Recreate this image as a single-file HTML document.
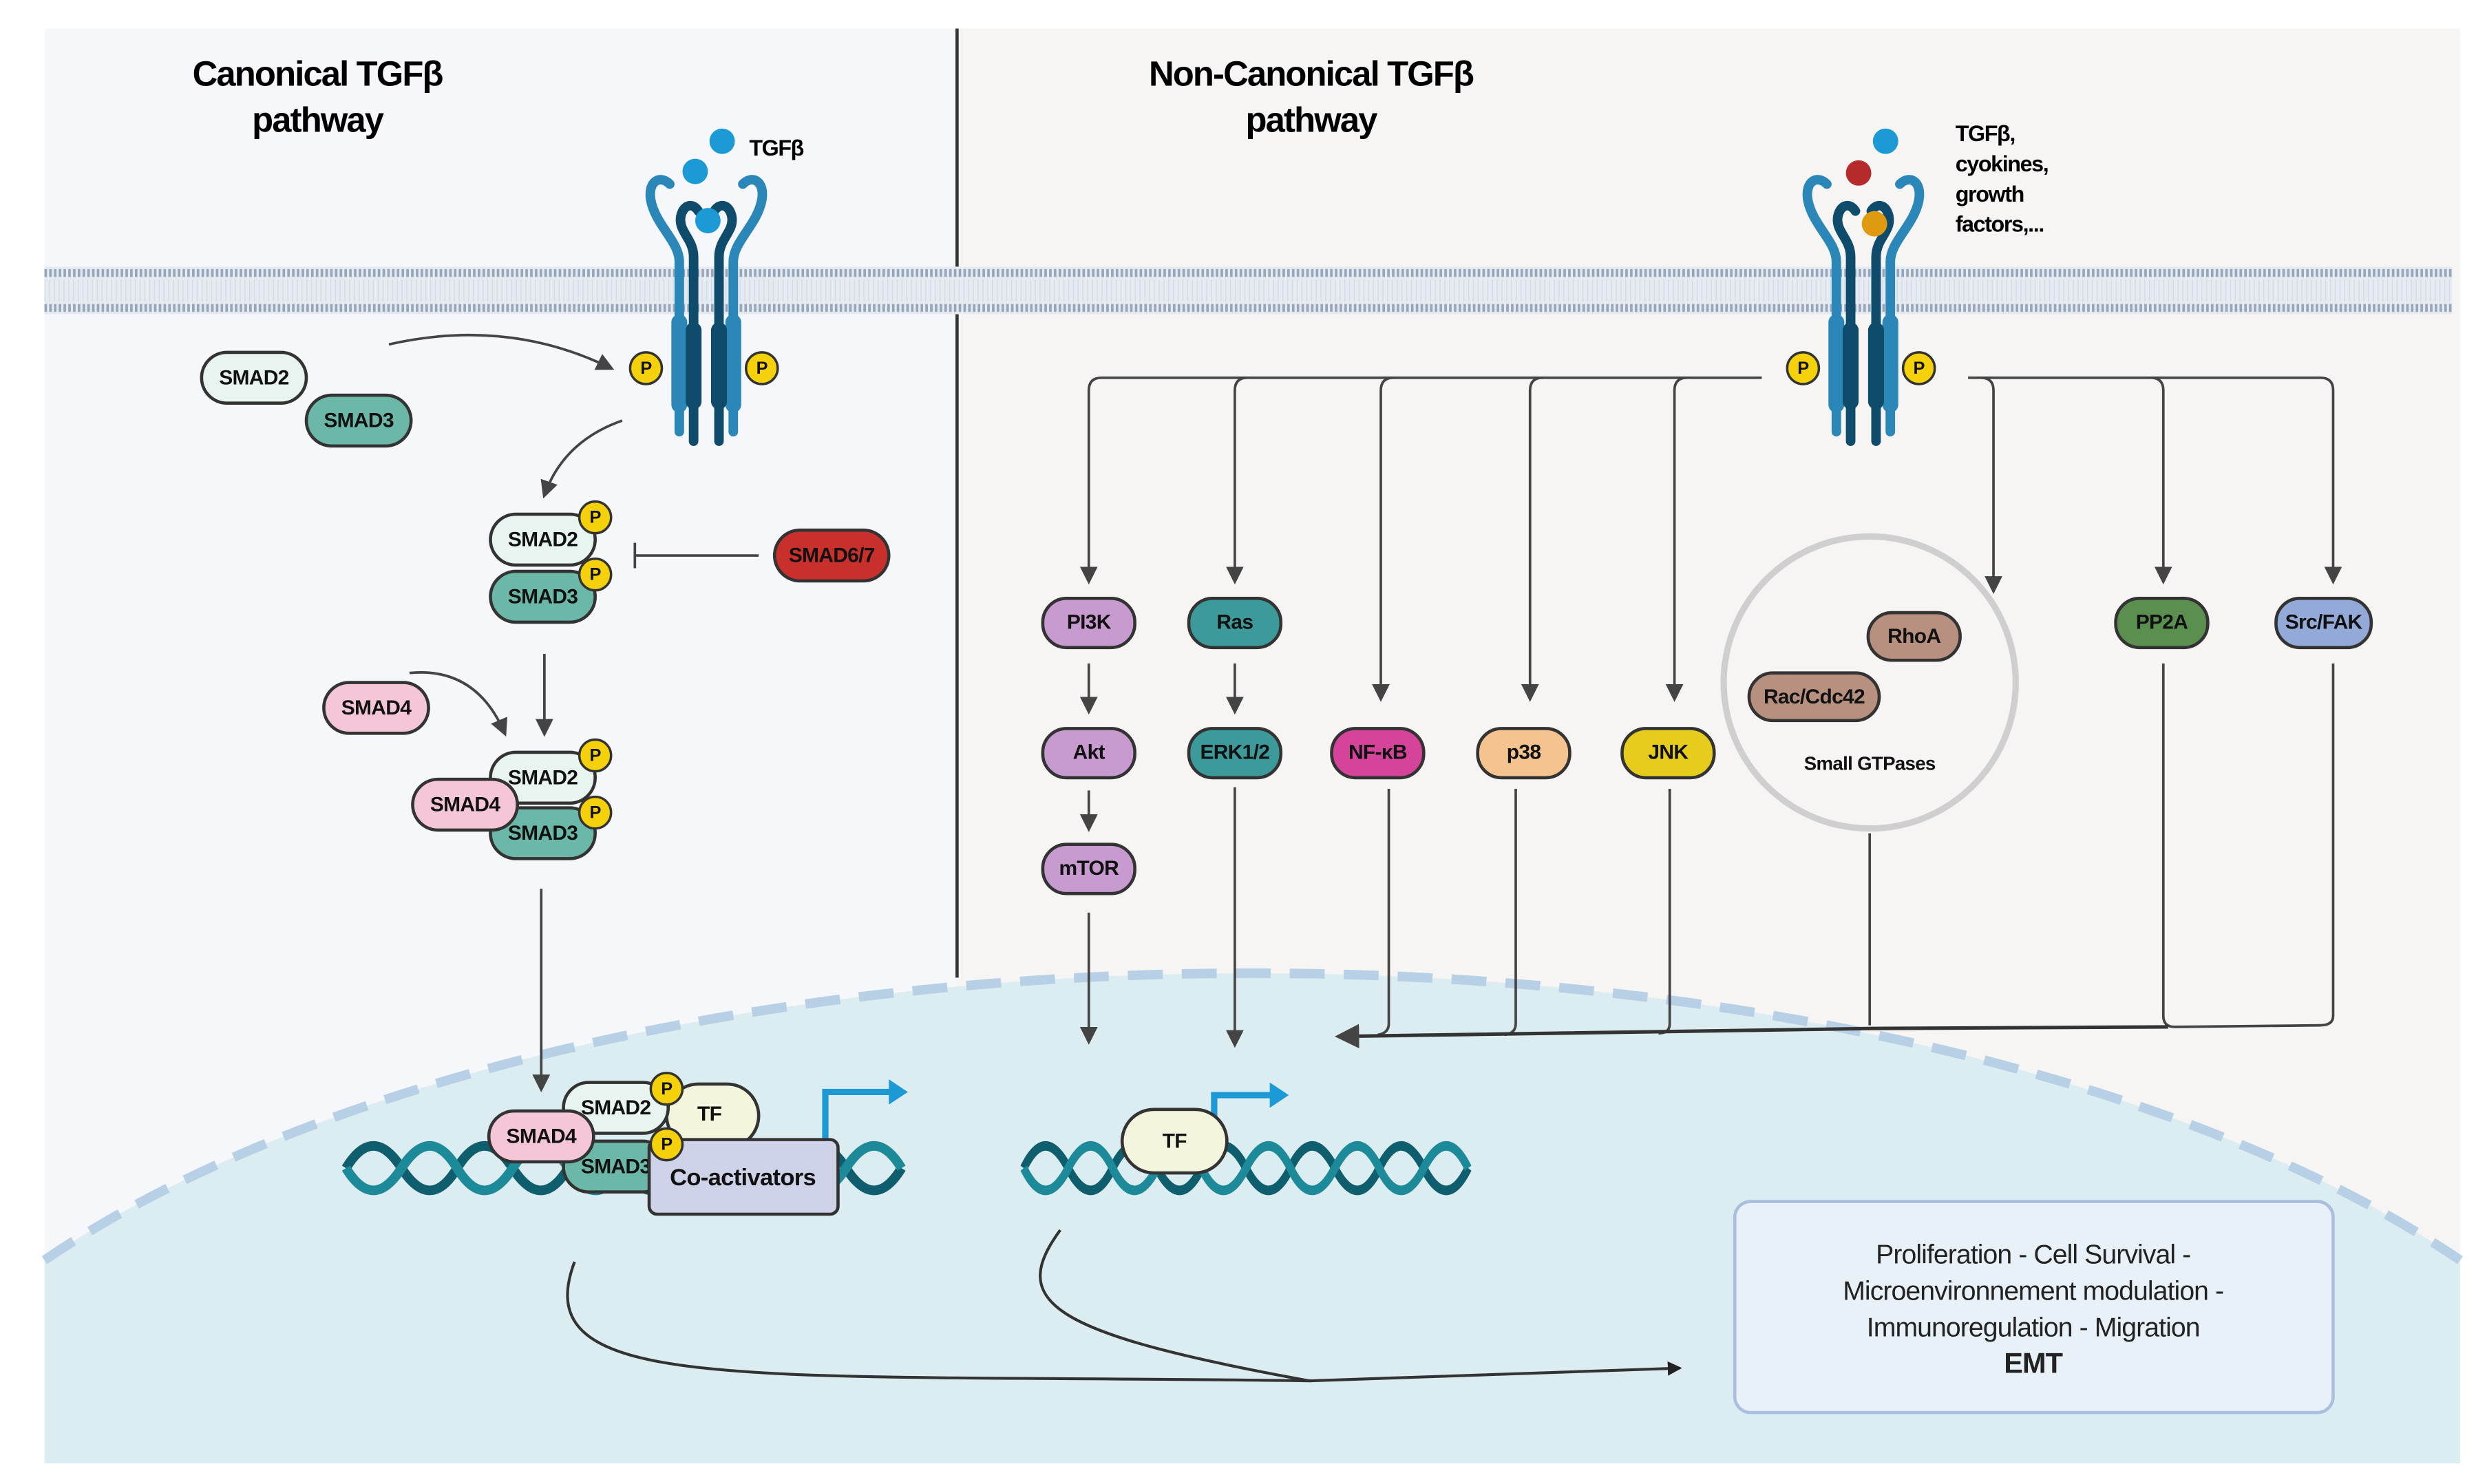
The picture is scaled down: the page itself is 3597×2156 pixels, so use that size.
<!DOCTYPE html>
<html><head><meta charset="utf-8"><style>
html,body{margin:0;padding:0;background:#fff;width:3597px;height:2156px;overflow:hidden;}
svg{display:block;position:absolute;left:0;top:0;}
text{font-family:"Liberation Sans",sans-serif;}
.n{font-size:13px;font-weight:bold;text-anchor:middle;dominant-baseline:central;letter-spacing:-0.3px;fill:#111;}
.pl{stroke:#333;stroke-width:2;}
.ar{stroke:#444;stroke-width:1.6;fill:none;}
</style></head><body>
<svg width="3597" height="2156" viewBox="0 0 1560 935" preserveAspectRatio="none" xmlns="http://www.w3.org/2000/svg" overflow="hidden">
<defs>
<marker id="ah" viewBox="0 0 10 10" refX="8" refY="5" markerWidth="7" markerHeight="7" orient="auto-start-reverse"><path d="M0,0 L10,5 L0,10 z" fill="#444"/></marker>
<marker id="ahb" viewBox="0 0 10 10" refX="8" refY="5" markerWidth="5" markerHeight="5" orient="auto"><path d="M0,0 L10,5 L0,10 z" fill="#222"/></marker>
<g id="rec">
<path d="M-17,272 L-17,165 C-17,152 -32,142 -35,126 C-37,114 -29,110 -23,116" stroke="#2a87b8" stroke-width="6" fill="none" stroke-linecap="round"/>
<path d="M17,272 L17,165 C17,152 32,142 35,126 C37,114 29,110 23,116" stroke="#2a87b8" stroke-width="6" fill="none" stroke-linecap="round"/>
<rect x="-22" y="198" width="10" height="62" rx="5" fill="#2a87b8"/>
<rect x="12" y="198" width="10" height="62" rx="5" fill="#2a87b8"/>
<path d="M-8,278 L-8,162 C-8,150 -18,146 -16,136 C-14,128 -8,128 -5,133" stroke="#0f4c6b" stroke-width="6" fill="none" stroke-linecap="round"/>
<path d="M8,278 L8,162 C8,150 18,146 16,136 C14,128 8,128 5,133" stroke="#0f4c6b" stroke-width="6" fill="none" stroke-linecap="round"/>
<rect x="-13" y="203" width="10" height="55" rx="5" fill="#0f4c6b"/>
<rect x="3" y="203" width="10" height="55" rx="5" fill="#0f4c6b"/>
<circle cx="-38" cy="232" r="10" fill="#f5d10b" stroke="#333" stroke-width="1.5"/><text class="n" x="-38" y="232" style="font-size:11px">P</text>
<circle cx="35" cy="232" r="10" fill="#f5d10b" stroke="#333" stroke-width="1.5"/><text class="n" x="35" y="232" style="font-size:11px">P</text>
</g>
<g id="dna">
<path d="M0,14 q17,-28 35,0 t35,0 t35,0 t35,0 t35,0 t35,0 t35,0 t35,0 t35,0 t35,0" stroke="#0f5e6e" stroke-width="6" fill="none"/>
<path d="M0,14 q17,28 35,0 t35,0 t35,0 t35,0 t35,0 t35,0 t35,0 t35,0 t35,0 t35,0" stroke="#1d8a99" stroke-width="6" fill="none"/>
</g>
</defs>

<rect x="28" y="18" width="575" height="904" fill="#f5f7fb"/>
<rect x="603" y="18" width="947" height="904" fill="#f7f5f4"/>
<path d="M28,794 A900,388 0 0,1 1550,794 L1550,922 L28,922 Z" fill="#dcedf1"/>
<path d="M28,794 A900,388 0 0,1 1550,794" fill="none" stroke="#b7d0e6" stroke-width="6" stroke-dasharray="22 12"/>
<line x1="603" y1="18" x2="603" y2="616" stroke="#333" stroke-width="2"/>
<rect x="28" y="168" width="1517" height="30" fill="#e6ebf2"/>
<line x1="28" y1="172" x2="1545" y2="172" stroke="#98a6bb" stroke-width="5" stroke-dasharray="1.6 1.4"/>
<line x1="28" y1="194" x2="1545" y2="194" stroke="#98a6bb" stroke-width="5" stroke-dasharray="1.6 1.4"/>
<line x1="28" y1="183" x2="1545" y2="183" stroke="#d3dae6" stroke-width="14" stroke-dasharray="0.6 2.4"/>

<text x="200" y="54" font-size="22" font-weight="bold" text-anchor="middle" letter-spacing="-0.8">Canonical TGFβ</text>
<text x="200" y="83" font-size="22" font-weight="bold" text-anchor="middle" letter-spacing="-0.8">pathway</text>
<text x="826" y="54" font-size="22" font-weight="bold" text-anchor="middle" letter-spacing="-0.8">Non-Canonical TGFβ</text>
<text x="826" y="83" font-size="22" font-weight="bold" text-anchor="middle" letter-spacing="-0.8">pathway</text>

<use href="#rec" transform="translate(445,0)"/>
<use href="#rec" transform="translate(1174,0)"/>
<circle cx="455" cy="89" r="8" fill="#1c9ad6"/><circle cx="438" cy="108" r="8" fill="#1c9ad6"/><circle cx="446" cy="139" r="8" fill="#1c9ad6"/>
<text x="472" y="98" font-size="14" font-weight="bold" letter-spacing="-0.6">TGFβ</text>
<circle cx="1188" cy="89" r="8" fill="#1c9ad6"/><circle cx="1171" cy="109" r="8" fill="#b52a2a"/><circle cx="1181" cy="141" r="8" fill="#e09a10"/>
<g font-size="14" font-weight="bold" letter-spacing="-0.6">
<text x="1232" y="89">TGFβ,</text><text x="1232" y="108">cyokines,</text><text x="1232" y="127">growth</text><text x="1232" y="146">factors,...</text></g>

<path class="ar" d="M245,217 Q320,200 385,232" marker-end="url(#ah)"/>
<path class="ar" d="M392,265 Q355,278 343,312" marker-end="url(#ah)"/>
<rect class="pl" x="127" y="222" width="66" height="32" rx="16" fill="#e8f4ef"/><text class="n" x="160" y="238">SMAD2</text>
<rect class="pl" x="193" y="249" width="66" height="32" rx="16" fill="#6cb8a8"/><text class="n" x="226" y="265">SMAD3</text>

<rect class="pl" x="309" y="360" width="66" height="32" rx="16" fill="#6cb8a8"/><text class="n" x="342" y="376">SMAD3</text>
<rect class="pl" x="309" y="324" width="66" height="32" rx="16" fill="#e8f4ef"/><text class="n" x="342" y="340">SMAD2</text>
<circle cx="375" cy="326" r="10" fill="#f5d10b" stroke="#333" stroke-width="1.5"/><text class="n" x="375" y="326" style="font-size:11px">P</text>
<circle cx="375" cy="362" r="10" fill="#f5d10b" stroke="#333" stroke-width="1.5"/><text class="n" x="375" y="362" style="font-size:11px">P</text>
<line class="ar" x1="478" y1="350" x2="400" y2="350"/><line class="ar" x1="400" y1="342" x2="400" y2="358"/>
<rect class="pl" x="488" y="334" width="72" height="32" rx="16" fill="#c9302c"/><text class="n" x="524" y="350">SMAD6/7</text>

<line class="ar" x1="343" y1="412" x2="343" y2="462" marker-end="url(#ah)"/>
<path class="ar" d="M258,424 Q300,420 318,462" marker-end="url(#ah)"/>
<rect class="pl" x="204" y="430" width="66" height="32" rx="16" fill="#f4c6d8"/><text class="n" x="237" y="446">SMAD4</text>

<rect class="pl" x="309" y="509" width="66" height="32" rx="16" fill="#6cb8a8"/><text class="n" x="342" y="525">SMAD3</text>
<rect class="pl" x="309" y="474" width="66" height="32" rx="16" fill="#e8f4ef"/><text class="n" x="342" y="490">SMAD2</text>
<rect class="pl" x="260" y="491" width="66" height="32" rx="16" fill="#f4c6d8"/><text class="n" x="293" y="507">SMAD4</text>
<circle cx="375" cy="476" r="10" fill="#f5d10b" stroke="#333" stroke-width="1.5"/><text class="n" x="375" y="476" style="font-size:11px">P</text>
<circle cx="375" cy="512" r="10" fill="#f5d10b" stroke="#333" stroke-width="1.5"/><text class="n" x="375" y="512" style="font-size:11px">P</text>
<line class="ar" x1="341" y1="560" x2="341" y2="686" marker-end="url(#ah)"/>

<use href="#dna" transform="translate(218,722)"/>
<path d="M520,718 L520,688 L562,688" stroke="#1c9ad6" stroke-width="4" fill="none"/><path d="M560,680 L572,688 L560,696 z" fill="#1c9ad6"/>
<rect class="pl" x="355" y="719" width="66" height="32" rx="16" fill="#6cb8a8"/><text class="n" x="388" y="735">SMAD3</text>
<rect class="pl" x="420" y="683" width="58" height="40" rx="20" fill="#f3f6dc"/><text class="n" x="447" y="702">TF</text>
<rect class="pl" x="355" y="682" width="66" height="32" rx="16" fill="#e8f4ef"/><text class="n" x="388" y="698">SMAD2</text>
<rect class="pl" x="409" y="718" width="119" height="47" rx="5" fill="#cfd3ea"/><text class="n" x="468" y="742" style="font-size:15px">Co-activators</text>
<rect class="pl" x="308" y="700" width="66" height="32" rx="16" fill="#f4c6d8"/><text class="n" x="341" y="716">SMAD4</text>
<circle cx="420" cy="686" r="10" fill="#f5d10b" stroke="#333" stroke-width="1.5"/><text class="n" x="420" y="686" style="font-size:11px">P</text>
<circle cx="420" cy="721" r="10" fill="#f5d10b" stroke="#333" stroke-width="1.5"/><text class="n" x="420" y="721" style="font-size:11px">P</text>

<use href="#dna" transform="translate(645,722) scale(0.8,1)"/>
<path d="M765,712 L765,690 L802,690" stroke="#1c9ad6" stroke-width="4" fill="none"/><path d="M800,682 L812,690 L800,698 z" fill="#1c9ad6"/>
<rect class="pl" x="707" y="699" width="66" height="40" rx="20" fill="#f3f6dc"/><text class="n" x="740" y="719">TF</text>

<path class="ar" d="M1110,238 L694,238 Q686,238 686,246 L686,366" marker-end="url(#ah)"/>
<path class="ar" d="M786,238 Q778,238 778,246 L778,366" marker-end="url(#ah)"/>
<path class="ar" d="M878,238 Q870,238 870,246 L870,440" marker-end="url(#ah)"/>
<path class="ar" d="M972,238 Q964,238 964,246 L964,440" marker-end="url(#ah)"/>
<path class="ar" d="M1063,238 Q1055,238 1055,246 L1055,440" marker-end="url(#ah)"/>
<path class="ar" d="M1240,238 L1462,238 Q1470,238 1470,246 L1470,366" marker-end="url(#ah)"/>
<path class="ar" d="M1248,238 Q1256,238 1256,246 L1256,372" marker-end="url(#ah)"/>
<path class="ar" d="M1355,238 Q1363,238 1363,246 L1363,366" marker-end="url(#ah)"/>

<circle cx="1178" cy="430" r="92" fill="none" stroke="#cfcfcf" stroke-width="4"/>
<rect class="pl" x="1177" y="386" width="58" height="30" rx="15" fill="#b89080"/><text class="n" x="1206" y="401">RhoA</text>
<rect class="pl" x="1102" y="424" width="82" height="30" rx="15" fill="#b89080"/><text class="n" x="1143" y="439">Rac/Cdc42</text>
<text class="n" x="1178" y="481" style="font-size:12px">Small GTPases</text>

<rect class="pl" x="657" y="377" width="58" height="31" rx="15" fill="#c79bd0"/><text class="n" x="686" y="392">PI3K</text>
<rect class="pl" x="749" y="377" width="58" height="31" rx="15" fill="#3d9a9a"/><text class="n" x="778" y="392">Ras</text>
<line class="ar" x1="686" y1="418" x2="686" y2="448" marker-end="url(#ah)"/>
<line class="ar" x1="778" y1="418" x2="778" y2="448" marker-end="url(#ah)"/>
<rect class="pl" x="657" y="459" width="58" height="31" rx="15" fill="#c79bd0"/><text class="n" x="686" y="474">Akt</text>
<rect class="pl" x="749" y="459" width="58" height="31" rx="15" fill="#3d9a9a"/><text class="n" x="778" y="474">ERK1/2</text>
<line class="ar" x1="686" y1="498" x2="686" y2="522" marker-end="url(#ah)"/>
<rect class="pl" x="657" y="532" width="58" height="31" rx="15" fill="#c79bd0"/><text class="n" x="686" y="547">mTOR</text>
<rect class="pl" x="839" y="459" width="58" height="31" rx="15" fill="#d5449a"/><text class="n" x="868" y="474">NF-κB</text>
<rect class="pl" x="931" y="459" width="58" height="31" rx="15" fill="#f5c38e"/><text class="n" x="960" y="474">p38</text>
<rect class="pl" x="1022" y="459" width="58" height="31" rx="15" fill="#e6cc1d"/><text class="n" x="1051" y="474">JNK</text>
<rect class="pl" x="1333" y="377" width="58" height="31" rx="15" fill="#5a8f50"/><text class="n" x="1362" y="392">PP2A</text>
<rect class="pl" x="1434" y="377" width="60" height="31" rx="15" fill="#93a9d8"/><text class="n" x="1464" y="392">Src/FAK</text>

<line class="ar" x1="686" y1="575" x2="686" y2="656" marker-end="url(#ah)"/>
<line class="ar" x1="778" y1="496" x2="778" y2="658" marker-end="url(#ah)"/>
<path class="ar" d="M1470,418 L1470,640 Q1470,646 1462,646 L1370,647 Q1363,647 1363,640 L1363,418"/>
<path class="ar" d="M1178,525 L1178,646"/>
<path class="ar" d="M875,497 L875,645 Q875,651 868,652"/>
<path class="ar" d="M955,497 L955,645 Q955,651 948,652"/>
<path class="ar" d="M1052,497 L1052,645 Q1052,651 1045,651"/>
<path stroke="#333" stroke-width="2.2" fill="none" d="M1366,647 L1180,648 L844,653" marker-end="url(#ah)"/>

<path d="M362,795 C330,880 470,865 825,870 L1058,862" stroke="#333" stroke-width="1.8" fill="none" marker-end="url(#ahb)"/>
<path d="M668,775 C635,820 660,840 825,870" stroke="#333" stroke-width="1.8" fill="none"/>

<rect x="1093" y="757" width="377" height="133" rx="10" fill="#e8f1f8" stroke="#a9bfdd" stroke-width="2"/>
<g font-size="17" text-anchor="middle" fill="#222" letter-spacing="-0.4">
<text x="1281" y="796">Proliferation - Cell Survival -</text>
<text x="1281" y="819">Microenvironnement modulation -</text>
<text x="1281" y="842">Immunoregulation - Migration</text>
<text x="1281" y="865" font-weight="bold" font-size="18">EMT</text>
</g>
</svg>
</body></html>
